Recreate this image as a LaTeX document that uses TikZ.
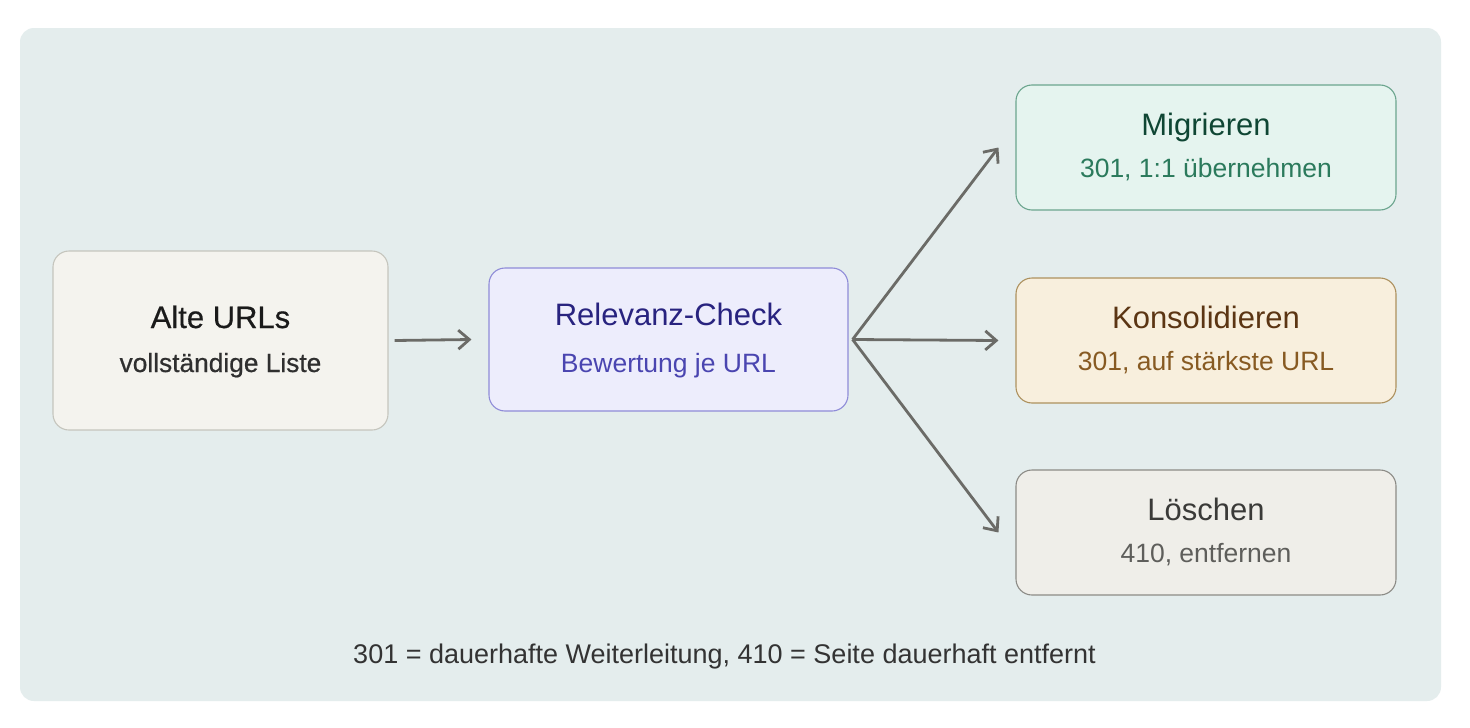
\documentclass[tikz,border=0pt]{standalone}
\usepackage{fontspec}
\setmainfont{Liberation Sans}
\newfontfamily\medfont{Liberation Sans}[FakeBold=0.6]
\usetikzlibrary{arrows.meta,calc}
\definecolor{panel}{HTML}{E4EDED}
\definecolor{altefill}{HTML}{F4F3EE}\definecolor{altedraw}{HTML}{C5C5BD}
\definecolor{altetitle}{HTML}{1A1A1A}\definecolor{altesub}{HTML}{2F2F2F}
\definecolor{relfill}{HTML}{EDEDFC}\definecolor{reldraw}{HTML}{8F8CD8}
\definecolor{reltitle}{HTML}{28237F}\definecolor{relsub}{HTML}{4A45B0}
\definecolor{migfill}{HTML}{E5F4EF}\definecolor{migdraw}{HTML}{6BA58E}
\definecolor{migtitle}{HTML}{0F4634}\definecolor{migsub}{HTML}{2B7A5C}
\definecolor{konfill}{HTML}{F8EFDD}\definecolor{kondraw}{HTML}{AD915E}
\definecolor{kontitle}{HTML}{5B3513}\definecolor{konsub}{HTML}{875A22}
\definecolor{losfill}{HTML}{EFEEE9}\definecolor{losdraw}{HTML}{8C8B86}
\definecolor{lostitle}{HTML}{3A3A38}\definecolor{lossub}{HTML}{5E5E5B}
\definecolor{arrowc}{HTML}{6B6B67}
\definecolor{footc}{HTML}{333333}
\tikzset{
  box/.style={draw, rounded corners=16pt, line width=1.1pt, inner sep=0pt},
  ttl/.style={anchor=base, inner sep=0pt, font=\fontsize{31}{36}\selectfont},
  sub/.style={anchor=base, inner sep=0pt, font=\fontsize{26.5}{31}\selectfont},
  arr/.style={draw=arrowc, line width=2.8pt, -{Straight Barb[length=11pt,width=19pt]}},
}
\begin{document}
\begin{tikzpicture}[x=1pt,y=-1pt]
\useasboundingbox (0,0) rectangle (1470,728);
\fill[white] (0,0) rectangle (1470,728);
\fill[panel, rounded corners=14pt] (20,28) rectangle (1441,701);

\node[box, fill=altefill, draw=altedraw, minimum width=335pt, minimum height=179pt] (alte) at (220.5,340.5) {};
\node[box, fill=relfill, draw=reldraw, minimum width=359pt, minimum height=143pt] (rel) at (668.5,339.5) {};
\node[box, fill=migfill, draw=migdraw, minimum width=380pt, minimum height=125pt] (mig) at (1206,147.5) {};
\node[box, fill=konfill, draw=kondraw, minimum width=380pt, minimum height=125pt] (kon) at (1206,340.5) {};
\node[box, fill=losfill, draw=losdraw, minimum width=380pt, minimum height=125pt] (los) at (1206,532.5) {};

\node[ttl, text=altetitle, font=\medfont\fontsize{31}{36}\selectfont] (alteT) at ($(alte.center)+(0,-12.5)$) {Alte URLs};
\node[sub, text=altesub, font=\medfont\fontsize{26.3}{31}\selectfont] (alteS) at ($(alte.center)+(0,31.5)$) {vollständige Liste};
\node[ttl, text=reltitle] (relT) at ($(rel.center)+(0,-14.5)$) {Relevanz-Check};
\node[sub, text=relsub] (relS) at ($(rel.center)+(0,32.5)$) {Bewertung je URL};
\node[ttl, text=migtitle] (migT) at ($(mig.center)+(0,-12.5)$) {Migrieren};
\node[sub, text=migsub] (migS) at ($(mig.center)+(0,29.5)$) {301, 1:1 übernehmen};
\node[ttl, text=kontitle] (konT) at ($(kon.center)+(0,-12.5)$) {Konsolidieren};
\node[sub, text=konsub] (konS) at ($(kon.center)+(0,29.5)$) {301, auf stärkste URL};
\node[ttl, text=lostitle] (losT) at ($(los.center)+(0,-12.5)$) {Löschen};
\node[sub, text=lossub] (losS) at ($(los.center)+(0,29.5)$) {410, entfernen};

\node[sub, text=footc, font=\fontsize{27}{32}\selectfont] (foot) at (724.5,663) {301 = dauerhafte Weiterleitung, 410 = Seite dauerhaft entfernt};

\coordinate (aStart) at ($(alte.east)+(6,0)$);
\coordinate (aEnd) at ($(rel.west)+(-17,0)$);
\coordinate (fan) at ($(rel.east)+(4,0)$);
\coordinate (mEnd) at ($(mig.west)+(-17,0)$);
\coordinate (kEnd) at ($(kon.west)+(-17,0)$);
\coordinate (lEnd) at ($(los.west)+(-17,0)$);
\draw[arr] (aStart) -- (aEnd);
\draw[arr] (fan) -- (mEnd);
\draw[arr] (fan) -- (kEnd);
\draw[arr] (fan) -- (lEnd);
\end{tikzpicture}
\end{document}
